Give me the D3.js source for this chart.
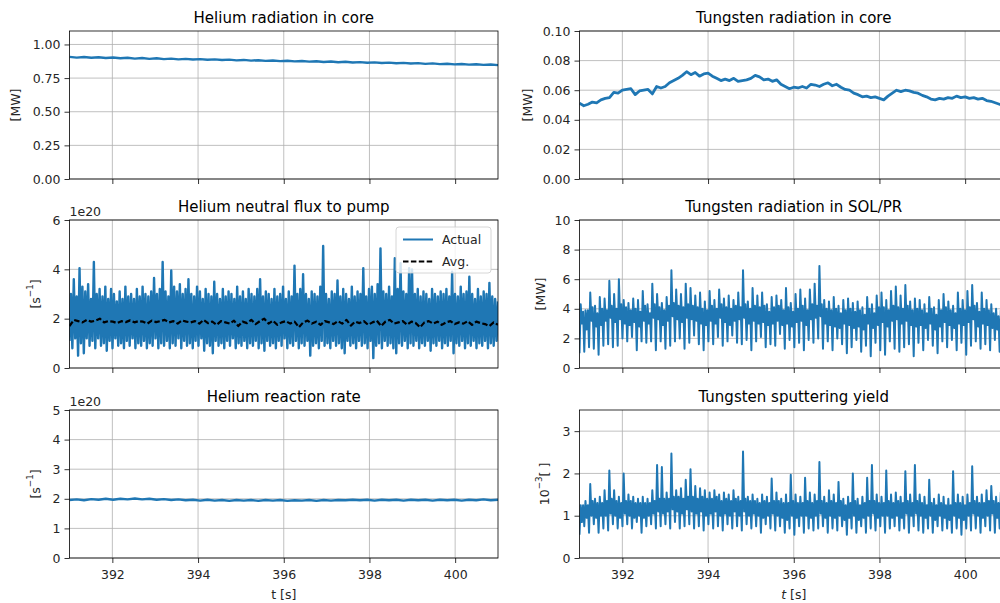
<!DOCTYPE html>
<html>
<head>
<meta charset="utf-8">
<script src="https://cdn.jsdelivr.net/npm/d3@7"></script>
<style>
  body { margin: 0; background: #fff; }
  svg { display: block; font-family: "DejaVu Sans", sans-serif; }
</style>
</head>
<body>
<svg id="fig" width="1000" height="603"></svg>
<script>
// === DATA ===
const tStart = 391, tEnd = 401;
const xTicks = [392, 394, 396, 398, 400];

// Helium radiation in core [MW]
const heCore = [0.908,0.902,0.907,0.901,0.905,0.899,0.903,0.897,0.901,0.895,
  0.899,0.893,0.897,0.891,0.895,0.889,0.893,0.888,0.891,0.886,
  0.889,0.884,0.887,0.882,0.885,0.880,0.883,0.878,0.881,0.876,
  0.879,0.874,0.877,0.872,0.875,0.870,0.873,0.868,0.871,0.866,
  0.869,0.864,0.867,0.862,0.865,0.860,0.863,0.858,0.861,0.856,
  0.859,0.854,0.857,0.852,0.855,0.850,0.853,0.848,0.851,0.846];

// Tungsten radiation in core [MW]
const wCore = [.0512,.0495,.0505,.0520,.0515,.0535,.0545,.0550,.0585,.0580,
  .0600,.0605,.0610,.0570,.0595,.0600,.0605,.0575,.0625,.0615,
  .0625,.0650,.0665,.0680,.0700,.0725,.0705,.0720,.0695,.0710,
  .0715,.0695,.0680,.0665,.0675,.0665,.0680,.0660,.0665,.0670,
  .0680,.0700,.0690,.0670,.0675,.0660,.0670,.0640,.0625,.0610,
  .0620,.0615,.0625,.0615,.0640,.0635,.0625,.0640,.0650,.0630,
  .0640,.0620,.0605,.0600,.0580,.0570,.0555,.0560,.0550,.0555,
  .0545,.0535,.0560,.0580,.0600,.0590,.0600,.0595,.0585,.0580,
  .0565,.0555,.0540,.0535,.0545,.0540,.0550,.0545,.0560,.0550,
  .0555,.0545,.0550,.0540,.0545,.0530,.0525,.0515,.0505,.0500,.0495];

// Helium neutral flux to pump [1e20 s^-1]
const heFlux = [1.1,3.0, 0.8,3.6, 1.2,2.9, 0.5,4.05, 1.0,3.3, 0.6,3.1, 1.2,3.4, 0.9,2.8, 1.1,4.3, 0.8,3.0,
  1.2,3.2, 0.9,2.9, 1.0,3.3, 0.7,2.8, 1.1,3.2, 0.8,3.0, 1.2,2.7, 0.9,3.1, 1.0,2.8, 0.8,3.3,
  1.1,2.9, 0.9,3.0, 1.2,2.8, 0.8,3.2, 1.0,2.9, 0.9,3.3, 1.1,3.0, 0.8,2.9, 1.0,3.1, 0.9,3.65,
  1.2,3.0, 0.8,3.2, 1.0,4.3, 0.9,3.1, 1.1,2.9, 0.8,3.95, 1.0,3.3, 0.9,3.1, 1.2,3.4, 0.8,3.0,
  1.1,3.2, 0.9,3.6, 1.0,3.0, 0.8,2.9, 1.1,3.3, 0.9,3.1, 1.2,2.8, 0.7,3.2, 1.0,3.0, 0.9,2.9,
  0.6,3.5, 1.1,3.0, 0.9,2.8, 1.0,3.2, 0.8,2.9, 1.1,3.1, 0.9,3.0, 1.2,2.8, 0.8,3.3, 1.0,2.9,
  0.9,3.1, 1.1,2.8, 0.8,3.2, 1.0,3.0, 0.9,2.9, 1.1,3.2, 0.8,3.6, 1.0,2.9, 0.7,3.1, 1.1,3.0,
  0.9,2.8, 1.0,3.2, 0.8,2.9, 1.1,3.0, 0.9,3.3, 1.2,2.8, 0.8,3.1, 1.0,2.9, 0.9,4.15, 1.1,3.0,
  0.8,3.2, 1.0,3.8, 0.9,3.0, 1.1,2.8, 0.5,3.1, 0.9,3.0, 1.0,2.9, 0.8,3.3, 1.1,4.95, 0.9,3.0,
  1.0,2.8, 0.8,3.1, 1.1,3.0, 0.9,3.55, 1.0,2.9, 0.8,3.2, 0.6,3.0, 1.1,2.8, 0.9,3.3, 1.0,2.9,
  0.8,3.1, 1.1,3.0, 0.9,4.05, 1.0,2.9, 0.8,3.2, 1.1,3.3, 0.4,3.0, 0.9,3.4, 1.0,4.85, 0.8,3.1,
  1.1,3.0, 0.9,3.3, 1.0,2.9, 0.8,4.45, 0.6,3.2, 1.0,4.25, 0.9,3.1, 1.1,3.0, 0.8,4.05, 1.0,4.0,
  0.9,3.0, 1.1,3.2, 0.8,2.9, 1.0,3.1, 0.9,3.0, 1.1,2.8, 0.7,3.2, 1.0,3.0, 0.9,2.9, 1.1,3.1,
  0.8,3.0, 1.0,3.2, 0.9,2.9, 1.1,3.9, 0.6,3.0, 1.0,2.9, 0.9,3.3, 1.1,3.0, 0.8,3.1, 1.0,3.7,
  0.9,3.0, 1.1,2.8, 0.8,3.2, 1.0,2.9, 0.9,3.1, 1.1,3.0, 0.8,3.45, 1.0,2.9, 0.9,2.8, 1.1,2.7];

const heFluxAvg = [1.70,1.95,1.90,1.85,1.95,1.88,1.92,2.00,1.85,1.90,
  1.88,1.82,1.90,1.86,1.93,1.85,1.90,1.88,1.80,1.92,
  1.86,1.90,1.95,1.85,1.90,1.80,1.93,1.88,1.85,1.90,
  1.80,1.95,1.82,1.88,1.75,1.90,1.85,1.80,1.92,1.70,
  1.88,1.82,1.95,1.78,1.90,2.00,1.80,1.92,1.75,1.85,
  1.90,1.80,1.88,1.65,1.85,1.92,1.80,1.88,1.75,1.90,
  1.85,1.78,1.90,1.80,1.95,1.72,1.88,1.82,1.90,1.75,
  1.85,1.92,1.70,1.88,1.95,1.80,1.85,1.90,1.75,1.88,
  1.82,1.65,1.85,1.90,1.80,1.88,1.75,1.85,1.90,1.78,
  1.85,1.80,1.90,1.75,1.88,1.82,1.78,1.70,1.85,1.75];

// Tungsten radiation in SOL/PR [MW], four samples per cycle: dip, peak, mid, upper
const wSol = [1.0,4.3,3.0,3.8, 1.1,3.9,2.6,3.9, 1.4,5.1,3.2,4.1, 1.3,4.2,2.8,3.7, 0.9,4.8,2.9,4.0,
  1.5,4.7,3.2,3.9, 1.6,5.9,3.4,4.2, 1.4,5.0,3.1,4.0, 1.5,6.0,3.3,4.3, 2.0,4.6,3.0,4.1,
  1.8,4.4,2.9,3.9, 2.1,4.7,3.1,4.0, 1.2,4.6,2.8,3.8, 1.8,5.2,3.2,4.2, 1.7,4.3,3.0,3.7,
  1.8,5.7,3.4,4.3, 1.2,5.0,3.3,4.1, 1.8,4.4,2.9,3.9, 1.3,4.8,3.2,4.2, 1.5,6.6,3.5,4.4,
  1.8,5.3,3.3,4.2, 2.0,5.0,3.1,4.1, 1.3,5.7,3.4,4.3, 1.7,5.4,3.3,4.2, 2.2,4.9,3.2,4.1,
  1.6,5.1,3.0,4.0, 1.2,4.5,2.9,3.9, 1.8,5.2,3.2,4.2, 1.6,4.6,3.0,4.0, 2.1,5.3,3.4,4.3,
  1.5,4.7,3.1,4.1, 1.8,4.9,2.9,4.0, 2.2,4.6,3.2,4.2, 1.7,5.1,3.3,4.1, 1.6,6.6,3.4,4.3,
  1.9,4.5,3.0,4.0, 1.2,5.4,3.2,4.2, 1.8,4.9,3.0,4.1, 2.1,5.1,3.1,4.2, 1.4,4.3,2.9,3.8,
  1.6,4.8,3.0,4.1, 1.5,4.9,3.2,4.2, 2.3,4.6,2.9,3.9, 1.3,5.4,3.0,4.1, 1.9,4.4,2.8,3.8,
  1.4,5.0,3.1,4.0, 1.7,5.3,3.2,4.2, 1.2,4.7,2.9,3.9, 1.9,5.3,3.3,4.3, 1.7,5.7,3.4,4.2,
  2.0,6.9,3.5,4.3, 1.3,4.6,3.0,4.0, 1.8,4.5,2.9,3.9, 1.2,4.8,2.8,4.0, 2.0,4.2,2.7,3.7,
  1.6,4.6,3.0,3.9, 1.0,4.7,2.9,4.0, 1.4,4.4,2.7,3.8, 1.9,4.5,2.8,3.9, 1.1,4.1,2.6,3.6,
  1.5,4.8,3.0,4.0, 0.8,4.3,2.7,3.7, 1.7,4.9,2.9,4.1, 1.2,5.1,3.1,4.1, 0.9,4.6,2.8,3.9,
  1.8,5.2,3.2,4.2, 1.3,5.5,3.3,4.1, 1.1,4.9,3.0,4.0, 1.4,5.6,3.2,4.2, 1.6,4.5,2.9,3.9,
  0.8,4.7,2.8,4.0, 1.7,4.6,2.9,3.9, 1.2,4.3,2.7,3.7, 1.9,4.8,3.0,4.0, 1.5,4.1,2.6,3.6,
  1.0,4.6,2.8,3.9, 1.8,5.0,3.1,4.1, 1.4,4.5,2.9,3.9, 1.9,4.2,2.7,3.7, 1.2,5.1,3.0,4.0,
  1.7,4.6,2.9,3.9, 0.9,5.2,3.1,4.1, 1.5,5.6,3.3,4.2, 1.8,4.4,2.8,3.8, 1.3,5.1,3.0,4.0,
  1.6,4.6,2.9,3.9, 1.2,4.3,2.7,3.7, 1.9,4.0,2.6,3.5, 1.1,3.9,2.5,3.5, 1.4,4.7,2.9,3.9];

// Helium reaction rate [1e20 s^-1]
const heRate = [1.96,1.98,1.95,1.99,1.97,2.00,1.97,2.00,1.98,2.01,
  1.98,2.00,1.97,1.99,1.96,1.98,1.95,1.97,1.94,1.97,
  1.94,1.96,1.93,1.96,1.94,1.96,1.93,1.96,1.94,1.96,
  1.93,1.95,1.94,1.96,1.93,1.96,1.94,1.96,1.95,1.97,
  1.95,1.97,1.94,1.97,1.95,1.97,1.94,1.97,1.95,1.97,
  1.94,1.97,1.95,1.97,1.94,1.97,1.95,1.98,1.95,1.97];

// Tungsten sputtering yield [1e-3], four samples per cycle
const wYield = [0.55,1.25,0.85,1.25, 0.75,1.35,0.95,1.25, 0.6,1.75,1.0,1.35, 0.8,1.4,0.95,1.3, 0.6,1.45,1.0,1.3,
  0.7,1.6,1.0,1.35, 0.65,2.07,1.05,1.4, 0.8,1.6,1.0,1.35, 0.7,1.45,0.95,1.3, 0.75,2.0,1.05,1.35,
  0.8,1.5,1.0,1.35, 0.7,1.45,0.95,1.3, 0.85,1.4,1.0,1.3, 0.6,1.45,0.95,1.3, 0.75,1.4,1.0,1.3,
  0.8,1.6,1.05,1.35, 0.7,2.2,1.1,1.4, 0.75,2.15,1.05,1.4, 0.8,1.55,1.1,1.4, 0.7,2.47,1.15,1.45,
  0.85,1.6,1.1,1.45, 0.7,1.65,1.05,1.4, 0.75,1.85,1.15,1.45, 0.8,2.1,1.1,1.45, 0.7,1.7,1.05,1.4,
  0.75,1.65,1.1,1.45, 0.65,1.6,1.0,1.4, 0.8,1.55,1.05,1.4, 0.7,1.6,1.1,1.45, 0.75,1.5,1.0,1.35,
  0.65,1.55,1.05,1.4, 0.8,1.5,1.0,1.35, 0.7,1.6,1.1,1.4, 0.75,1.45,1.0,1.35, 0.65,2.52,1.1,1.4,
  0.8,1.45,1.0,1.35, 0.7,1.5,1.05,1.35, 0.75,1.4,1.0,1.3, 0.6,1.5,0.95,1.35, 0.8,1.45,1.0,1.3,
  0.7,1.88,1.05,1.35, 0.65,1.55,1.0,1.35, 0.75,1.4,0.95,1.3, 0.6,1.5,0.9,1.3, 0.7,1.97,1.0,1.35,
  0.55,1.5,0.95,1.3, 0.75,1.45,1.0,1.3, 0.6,1.9,1.0,1.35, 0.7,1.55,0.95,1.3, 0.65,1.5,1.0,1.35,
  0.7,2.27,1.05,1.35, 0.75,1.45,0.95,1.3, 0.6,1.6,1.0,1.35, 0.7,1.5,0.95,1.3, 0.65,1.8,1.0,1.35,
  0.75,1.4,0.9,1.25, 0.55,1.45,0.95,1.3, 0.7,2.0,1.0,1.35, 0.6,1.4,0.9,1.25, 0.75,1.45,0.95,1.3,
  0.6,1.9,1.0,1.35, 0.7,2.2,1.05,1.35, 0.65,1.5,0.95,1.3, 0.75,1.45,1.0,1.3, 0.6,2.07,1.0,1.35,
  0.7,1.5,0.95,1.3, 0.75,1.55,1.0,1.35, 0.65,1.45,0.95,1.3, 0.7,2.05,1.05,1.35, 0.6,1.5,1.0,1.3,
  0.75,2.2,1.05,1.35, 0.65,1.5,1.0,1.3, 0.6,1.45,0.95,1.25, 0.7,1.85,1.0,1.3, 0.6,1.4,0.9,1.25,
  0.75,1.5,1.0,1.3, 0.65,1.45,0.95,1.25, 0.7,1.4,0.9,1.25, 0.6,2.05,1.0,1.3, 0.7,1.5,0.95,1.3,
  0.55,1.45,0.9,1.25, 0.7,1.5,1.0,1.3, 0.65,2.17,1.05,1.35, 0.7,1.45,1.0,1.3, 0.6,1.5,0.95,1.3,
  0.75,1.6,1.0,1.35, 0.65,1.7,1.05,1.35, 0.6,1.45,0.95,1.3, 0.7,1.55,1.0,1.3, 0.5,1.5,0.9,1.25];

// === LAYOUT ===
const svg = d3.select("#fig");
svg.append("rect").attr("width", 1000).attr("height", 603).attr("fill", "#fff");

const blue = "#1f77b4";
const colX = [69.5, 579.5];
const axW = 428.5;
const rowY = [31, 220, 410];
const axH = 148;
const fs = 12.5;

// sample times spread evenly across the window
const withTime = arr => arr.map((v, i) => [tStart + (tEnd - tStart) * i / (arr.length - 1), v]);

const panels = [
  { col: 0, row: 0, title: "Helium radiation in core", ymax: 1.1, yticks: [0, 0.25, 0.5, 0.75, 1.0], fmt: d3.format(".2f"),
    ylabel: [["[MW]"]], labelX: 15, series: [{ data: heCore, width: 2.4 }] },
  { col: 1, row: 0, title: "Tungsten radiation in core", ymax: 0.1, yticks: [0, 0.02, 0.04, 0.06, 0.08, 0.1], fmt: d3.format(".2f"),
    ylabel: [["[MW]"]], labelX: 527, series: [{ data: wCore, width: 2.8 }] },
  { col: 0, row: 1, title: "Helium neutral flux to pump", ymax: 6, yticks: [0, 2, 4, 6], fmt: d3.format("d"), offset: "1e20",
    ylabel: [["[s"], ["−1", "sup"], ["]"]], labelX: 35,
    series: [{ data: heFlux, width: 2.4 }, { data: heFluxAvg, color: "#000", width: 2.2, dash: "5.5,2.4" }],
    legend: true },
  { col: 1, row: 1, title: "Tungsten radiation in SOL/PR", ymax: 10, yticks: [0, 2, 4, 6, 8, 10], fmt: d3.format("d"),
    ylabel: [["[MW]"]], labelX: 540, series: [{ data: wSol, width: 2 }] },
  { col: 0, row: 2, title: "Helium reaction rate", ymax: 5, yticks: [0, 1, 2, 3, 4, 5], fmt: d3.format("d"), offset: "1e20",
    ylabel: [["[s"], ["−1", "sup"], ["]"]], labelX: 35, series: [{ data: heRate, width: 2.4 }], xlabel: "t [s]" },
  { col: 1, row: 2, title: "Tungsten sputtering yield", ymax: 3.5, yticks: [0, 1, 2, 3], fmt: d3.format("d"),
    ylabel: [["10"], ["−3", "sup"], ["[ ]"]], labelX: 544, series: [{ data: wYield, width: 2 }], xlabel: "t [s]", italicT: true }
];

panels.forEach((p, idx) => {
  const x0 = colX[p.col], y0 = rowY[p.row];
  const x = d3.scaleLinear().domain([tStart, tEnd]).range([x0, x0 + axW]);
  const y = d3.scaleLinear().domain([0, p.ymax]).range([y0 + axH, y0]);
  const g = svg.append("g");

  g.append("clipPath").attr("id", "clip" + idx)
    .append("rect").attr("x", x0).attr("y", y0).attr("width", axW).attr("height", axH);

  // grid
  g.append("g").selectAll("line").data(xTicks).join("line")
    .attr("x1", d => x(d)).attr("x2", d => x(d)).attr("y1", y0).attr("y2", y0 + axH)
    .attr("stroke", "#b0b0b0").attr("stroke-width", 0.8);
  g.append("g").selectAll("line").data(p.yticks).join("line")
    .attr("x1", x0).attr("x2", x0 + axW).attr("y1", d => y(d)).attr("y2", d => y(d))
    .attr("stroke", "#b0b0b0").attr("stroke-width", 0.8);

  // lines
  const line = d3.line().x(d => x(d[0])).y(d => y(d[1]));
  const plot = g.append("g").attr("clip-path", `url(#clip${idx})`);
  p.series.forEach(s => {
    plot.append("path")
      .datum(withTime(s.data))
      .attr("fill", "none")
      .attr("stroke", s.color || blue)
      .attr("stroke-width", s.width || 2)
      .attr("stroke-linejoin", "round")
      .attr("stroke-dasharray", s.dash || null)
      .attr("d", line);
  });

  // axes
  const ax = d3.axisBottom(x).tickValues(xTicks).tickSize(5).tickPadding(5)
    .tickFormat(p.xlabel ? d3.format("d") : "");
  const axG = g.append("g").attr("transform", `translate(0,${y0 + axH})`).call(ax);
  const ay = d3.axisLeft(y).tickValues(p.yticks).tickSize(5).tickPadding(4).tickFormat(p.fmt);
  const ayG = g.append("g").attr("transform", `translate(${x0},0)`).call(ay);
  [axG, ayG].forEach(a => {
    a.select(".domain").remove();
    a.selectAll("line").attr("stroke", "#000").attr("stroke-width", 0.8);
    a.selectAll("text").attr("fill", "#262626").style("font-size", fs + "px")
      .style("font-family", "DejaVu Sans, sans-serif");
  });
  axG.selectAll("text").attr("dy", "0.85em");

  // spines
  g.append("rect").attr("x", x0).attr("y", y0).attr("width", axW).attr("height", axH)
    .attr("fill", "none").attr("stroke", "#000").attr("stroke-width", 0.8);

  // title
  g.append("text").attr("x", x0 + axW / 2).attr("y", y0 - 8.5)
    .attr("text-anchor", "middle").attr("font-size", 15).attr("fill", "#000").text(p.title);

  // offset text
  if (p.offset) {
    g.append("text").attr("x", x0).attr("y", y0 - 4).attr("font-size", fs).attr("fill", "#262626").text(p.offset);
  }

  // y label
  const yl = g.append("text")
    .attr("transform", `translate(${p.labelX},${y0 + axH / 2}) rotate(-90)`)
    .attr("text-anchor", "middle").attr("dominant-baseline", "central")
    .attr("font-size", fs).attr("fill", "#262626");
  p.ylabel.forEach(([txt, kind]) => {
    const ts = yl.append("tspan").text(txt);
    if (kind === "sup") ts.attr("font-size", fs * 0.7).attr("dy", -5);
    else if (yl.selectAll("tspan").size() > 1) ts.attr("dy", 5);
  });

  // x label
  if (p.xlabel) {
    const xl = g.append("text").attr("x", x0 + axW / 2).attr("y", y0 + axH + 41)
      .attr("text-anchor", "middle").attr("font-size", fs).attr("fill", "#262626");
    if (p.italicT) {
      xl.append("tspan").attr("font-style", "italic").text("t");
      xl.append("tspan").text(" [s]");
    } else {
      xl.text(p.xlabel);
    }
  }

  // legend
  if (p.legend) {
    const lg = g.append("g").attr("transform", `translate(${x0 + axW - 102},${y0 + 7})`);
    lg.append("rect").attr("width", 95).attr("height", 46).attr("rx", 3)
      .attr("fill", "#fff").attr("fill-opacity", 0.8).attr("stroke", "#ccc").attr("stroke-width", 0.8);
    const items = [{ label: "Actual", color: blue, dash: null }, { label: "Avg.", color: "#000", dash: "5.5,2.4" }];
    items.forEach((it, i) => {
      const yy = 12.5 + i * 22;
      lg.append("line").attr("x1", 7).attr("x2", 37).attr("y1", yy).attr("y2", yy)
        .attr("stroke", it.color).attr("stroke-width", 2).attr("stroke-dasharray", it.dash);
      lg.append("text").attr("x", 46).attr("y", yy + 4.5).attr("font-size", fs).attr("fill", "#262626").text(it.label);
    });
  }
});
</script>
</body>
</html>
